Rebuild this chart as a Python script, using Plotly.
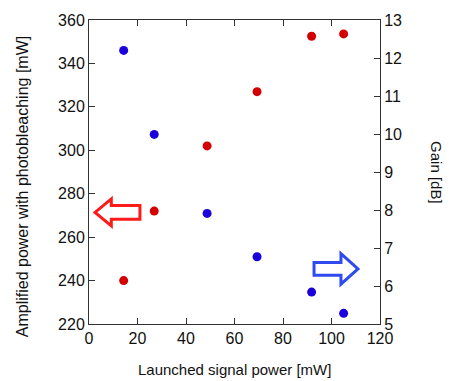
import plotly.graph_objects as go

launched = [14.3, 26.9, 48.7, 69.3, 91.8, 105.0]
amplified = [240, 272, 302, 327, 352.5, 353.6]
gain = [12.2, 9.99, 7.91, 6.77, 5.84, 5.28]

FONT = "Liberation Sans, Arial, sans-serif"
AX = "#333333"

fig = go.Figure()
fig.add_trace(go.Scatter(x=launched, y=amplified, mode="markers",
                         marker=dict(color="#d40000", size=9), yaxis="y", showlegend=False))
fig.add_trace(go.Scatter(x=launched, y=gain, mode="markers",
                         marker=dict(color="#1a00dd", size=9), yaxis="y2", showlegend=False))

# hollow arrows
def left_arrow(tip, base, tail, cy, sh, hh):
    return (f"M {tip},{cy} L {base},{cy+hh} L {base},{cy+sh} L {tail},{cy+sh} "
            f"L {tail},{cy-sh} L {base},{cy-sh} L {base},{cy-hh} Z")

fig.add_shape(type="path", xref="x", yref="y",
              path=left_arrow(2.5, 9.2, 21.0, 271.4, 3.2, 6.2),
              line=dict(color="#ff1a1a", width=3), fillcolor="rgba(0,0,0,0)")
fig.add_shape(type="path", xref="x", yref="y2",
              path=left_arrow(110.9, 103.9, 92.8, 6.45, 0.17, 0.40),
              line=dict(color="#2f4bf0", width=3), fillcolor="rgba(0,0,0,0)")

axis_common = dict(showgrid=False, zeroline=False, showline=True, linecolor=AX, linewidth=1,
                   ticks="inside", ticklen=6, tickcolor=AX,
                   tickfont=dict(family=FONT, size=16, color="#111"))

fig.update_layout(
    width=449, height=381,
    margin=dict(l=89, r=69, t=16, b=57),
    plot_bgcolor="white", paper_bgcolor="white",
    xaxis=dict(range=[0, 120], tickvals=[0, 20, 40, 60, 80, 100, 120], mirror="ticks", **axis_common),
    yaxis=dict(range=[220, 360], tickvals=[220, 240, 260, 280, 300, 320, 340, 360], **axis_common),
    yaxis2=dict(range=[5, 13], tickvals=list(range(5, 14)), overlaying="y", side="right", **axis_common),
    annotations=[
        dict(text="Launched signal power [mW]", xref="paper", yref="paper", x=0.5, y=-0.149,
             xanchor="center", yanchor="middle", showarrow=False,
             font=dict(family=FONT, size=15, color="#111")),
        dict(text="Amplified power with photobleaching [mW]", xref="paper", yref="paper",
             x=-0.230, y=0.45, xanchor="center", yanchor="middle", textangle=-90, showarrow=False,
             font=dict(family=FONT, size=16, color="#111")),
        dict(text="Gain [dB]", xref="paper", yref="paper", x=1.192, y=0.497,
             xanchor="center", yanchor="middle", textangle=90, showarrow=False,
             font=dict(family=FONT, size=15, color="#111")),
    ],
)

fig.write_html("out.html")
